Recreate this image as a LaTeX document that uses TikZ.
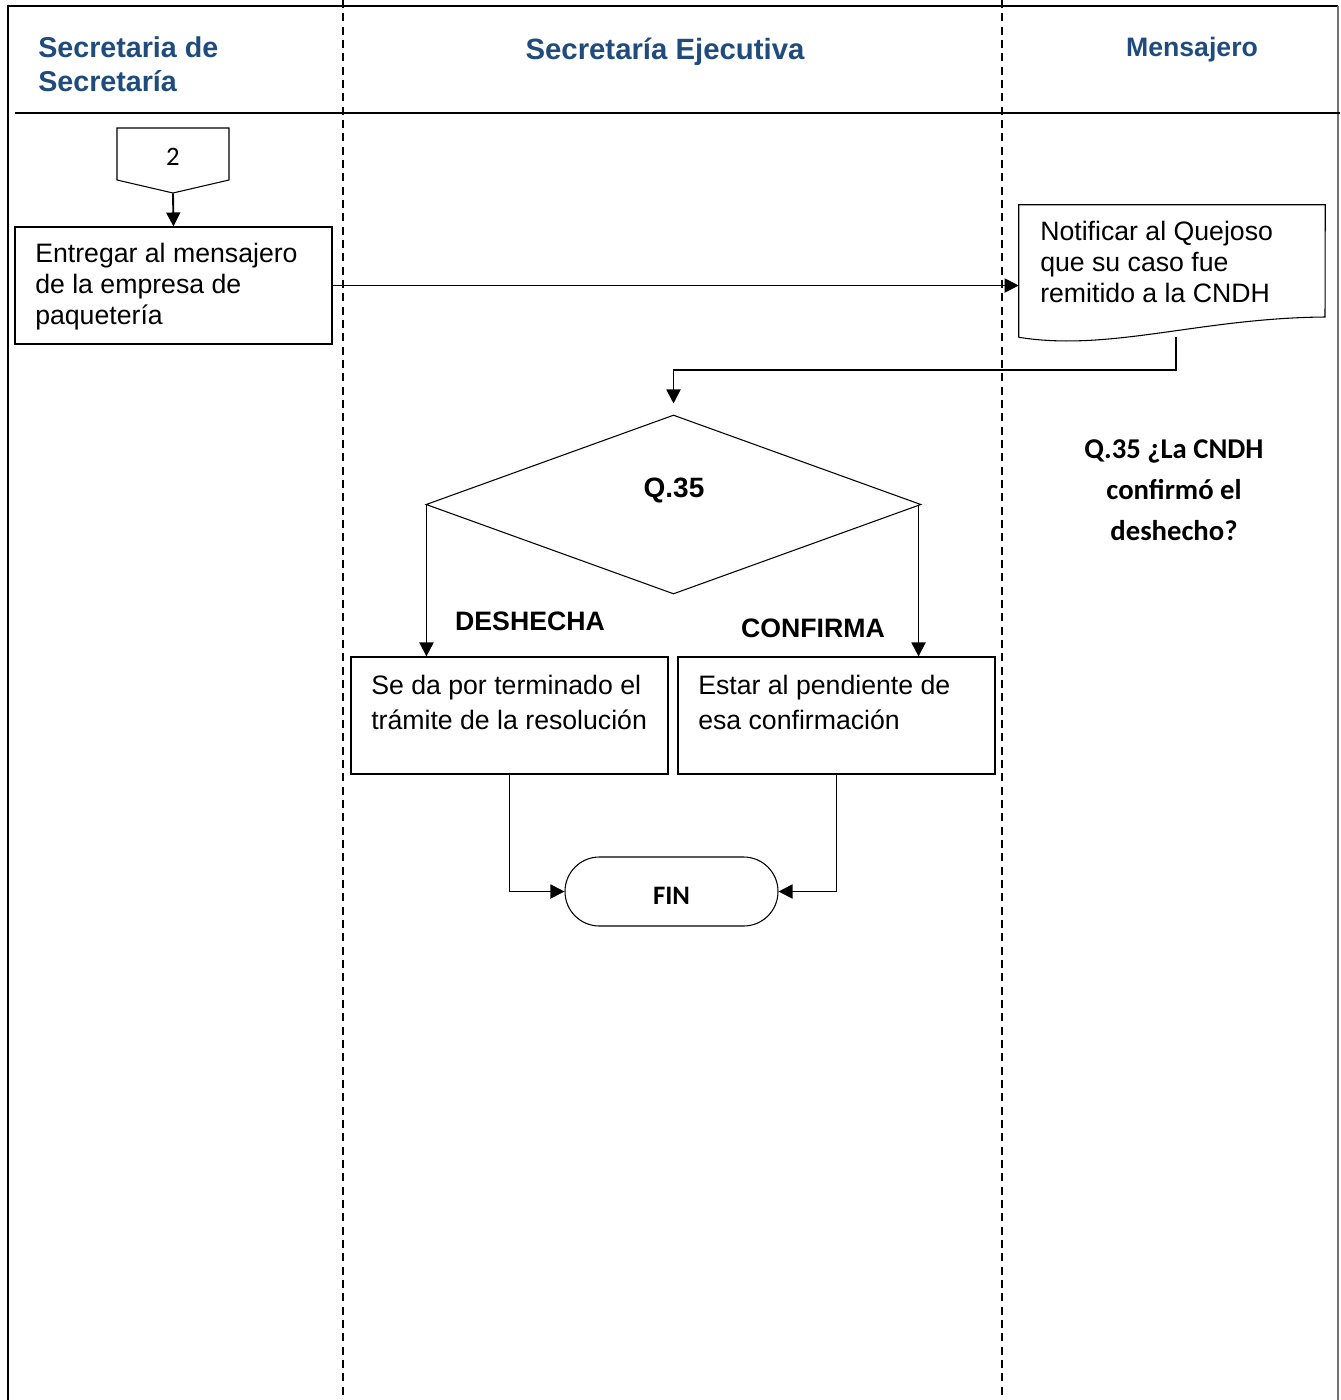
\documentclass[tikz,border=0pt]{standalone}
\usepackage{fontspec}
\setmainfont{Liberation Sans}
\newfontfamily\carl{Carlito}
\usetikzlibrary{arrows.meta,shapes.geometric}
\definecolor{hdrblue}{RGB}{31,75,125}
\tikzset{
  lane/.style={line width=1.5pt, dash pattern=on 6pt off 4pt},
  frame/.style={line width=1.1pt},
  box/.style={draw, line width=0.8pt, rectangle, inner sep=0pt},
  arr/.style={line width=1.4pt, -{Triangle[length=10.5pt,width=10.5pt]}},
  hdr/.style={text=hdrblue, font=\bfseries, inner sep=0pt},
  body/.style={font=\fontsize{20pt}{23.25pt}\selectfont, inner sep=0pt, align=left, anchor=north west},
  lbl/.style={font=\bfseries\fontsize{20pt}{24pt}\selectfont, inner sep=0pt}
}
\begin{document}
\begin{tikzpicture}[x=0.75pt,y=-0.75pt]
\useasboundingbox (0,0) rectangle (1340,1400);
% frame
\draw[frame] (8,1400) -- (8,6) -- (1338,6);
\draw[line width=0.8pt, black!55] (1338,6) -- (1338,1400);
\draw[line width=1.5pt] (15,113) -- (1340,113);
\draw[lane] (343,0) -- (343,1400);
\draw[lane] (1002,0) -- (1002,1400);
% headers
\node[hdr, align=left, anchor=west, font=\bfseries\fontsize{21.5pt}{25.5pt}\selectfont] (h1) at (38,64) {Secretaria de\\Secretaría};
\node[hdr, font=\bfseries\fontsize{22pt}{26pt}\selectfont] (h2) at (665,52) {Secretaría Ejecutiva};
\node[hdr, font=\bfseries\fontsize{20pt}{24pt}\selectfont] (h3) at (1192,50) {Mensajero};
% off-page connector
\draw[line width=0.8pt] (117,128) -- (229,128) -- (229,180) -- (173,193) -- (117,180) -- cycle;
\node[inner sep=0pt, minimum width=84pt, minimum height=48.75pt, font=\carl\fontsize{20pt}{24pt}\selectfont] (op) at (173,160.5) {};
\node[inner sep=0pt, font=\carl\fontsize{20pt}{24pt}\selectfont] (opt) at (173,157) {2};
% box 1
\node[box, minimum width=237.75pt, minimum height=87.75pt] (b1) at (173.5,285.5) {};
\node[body] (b1t) at (35,243) {Entregar al mensajero\\de la empresa de\\paquetería};
\draw[arr] (op.south) -- (b1.north);
% document
\node[inner sep=0pt, minimum width=229.5pt, minimum height=99pt] (doc) at (1172,271) {};
\draw[line width=0.8pt] (doc.south west) -- (doc.north west) -- (doc.north east) -- (1325,317)
  .. controls (1200,318) and (1110,352) .. (doc.south west);
\node[body] (doct) at (1040,221) {Notificar al Quejoso\\que su caso fue\\remitido a la CNDH};
\coordinate (docb) at (1176,337);
\draw[arr] (b1.east) -- (b1.east -| doc.west);
% decision
\node[diamond, draw, line width=0.8pt, inner sep=0pt, minimum width=371.25pt, minimum height=134.25pt] (q) at (673.5,504.5) {};
\node[lbl, font=\bfseries\fontsize{21pt}{24pt}\selectfont] (qt) at (674,490) {Q.35};
\draw[arr] (docb) -- (1176,370) -| ([yshift=8.25pt]q.north);
% boxes 2 and 3
\node[box, minimum width=237.75pt, minimum height=87.75pt] (b2) at (509.5,715.5) {};
\node[box, minimum width=237.75pt, minimum height=87.75pt] (b3) at (836.5,715.5) {};
\node[body, font=\fontsize{20pt}{26.25pt}\selectfont] (b2t) at (371,675) {Se da por terminado el\\trámite de la resolución};
\node[body, font=\fontsize{20pt}{26.25pt}\selectfont] (b3t) at (698,675) {Estar al pendiente de\\esa confirmación};
\draw[arr] ([xshift=0.75pt]q.west) -- ([xshift=0.75pt]q.west |- b2.north);
\draw[arr] ([xshift=-2.25pt]q.east) -- ([xshift=-2.25pt]q.east |- b3.north);
\node[lbl] (l1) at (530,621) {DESHECHA};
\node[lbl] (l2) at (813,628) {CONFIRMA};
% end
\node[draw, line width=0.8pt, rounded corners=25.8pt, minimum width=159.75pt, minimum height=51.75pt, inner sep=0pt, text height=19pt, text depth=0pt, font=\carl\bfseries\fontsize{20pt}{24pt}\selectfont] (fin) at (671.5,891.5) {FIN};
\draw[arr] (b2.south) |- (fin.west);
\draw[arr] (b3.south) |- (fin.east);
% question text
\node[align=center, inner sep=0pt, font=\carl\bfseries\fontsize{21.5pt}{30.75pt}\selectfont] (qq) at (1174,490) {Q.35 ¿La CNDH\\confirmó el\\deshecho?};
\end{tikzpicture}
\end{document}
